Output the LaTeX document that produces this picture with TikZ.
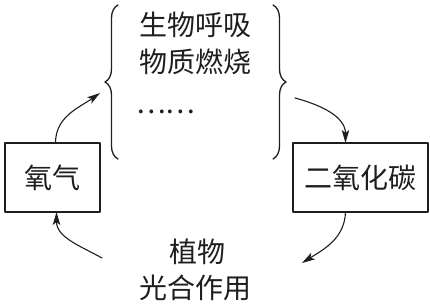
\documentclass[tikz,border=0pt]{standalone}
\usepackage{fontspec}
\usepackage{tikz}
\usetikzlibrary{arrows.meta,positioning,decorations.pathreplacing}
\newfontfamily\cjk{Noto Sans CJK SC}
\definecolor{ink}{HTML}{1E1E1E}
\tikzset{
    every picture/.style={line cap=round,line join=round},
    gasbox/.style={draw=ink,line width=1.6pt,minimum height=69pt,
      inner sep=2pt,outer sep=0pt,text=ink,align=center},
    steptext/.style={inner sep=0pt,outer sep=0pt,text=ink},
    cyclearrow/.style={-{Stealth[length=13pt,width=7.5pt,inset=3pt]},draw=ink,
      line width=1.1pt},
    sidebrace/.style={draw=ink,line width=1.3pt,
      decorate,decoration={brace,amplitude=13pt}}
}
\begin{document}
\begin{tikzpicture}[x=1pt,y=1pt,font=\cjk\fontsize{28}{32}\selectfont]
  \useasboundingbox (0,0) rectangle (430,305);
  % the two gases
  \node[gasbox,minimum width=95pt] (o2) at (52.5,127.5) {氧气};
  \node[gasbox,minimum width=135pt] (co2) at (360.5,127.5) {二氧化碳};
  % processes that use up oxygen
  \node[steptext] (resp) at (195,280) {生物呼吸};
  \node[steptext] (burn) at (195,243) {物质燃烧};
  \node[steptext,anchor=west] (more) at (136,193) {……};
  \draw[sidebrace] (118,146) -- (118,300);
  \draw[sidebrace] (273,300) -- (273,146);
  % photosynthesis
  \node[steptext] (plant) at (197,53) {植物};
  \node[steptext] (photo) at (195,17) {光合作用};
  % ends of the arrows near the texts
  \coordinate (upin) at (100,212);
  \coordinate (upout) at (295,207);
  \coordinate (downin) at (302,42);
  \coordinate (downout) at (102,47);
  \draw[cyclearrow] ([xshift=3pt]o2.north) to[out=90,in=215] (upin);
  \draw[cyclearrow] (upout) to[out=-15,in=90] ([xshift=-15pt]co2.north);
  \draw[cyclearrow] ([xshift=-15pt]co2.south) to[out=-92,in=32] (downin);
  \draw[cyclearrow] (downout) to[out=151,in=-90] ([xshift=4pt]o2.south);
\end{tikzpicture}
\end{document}
